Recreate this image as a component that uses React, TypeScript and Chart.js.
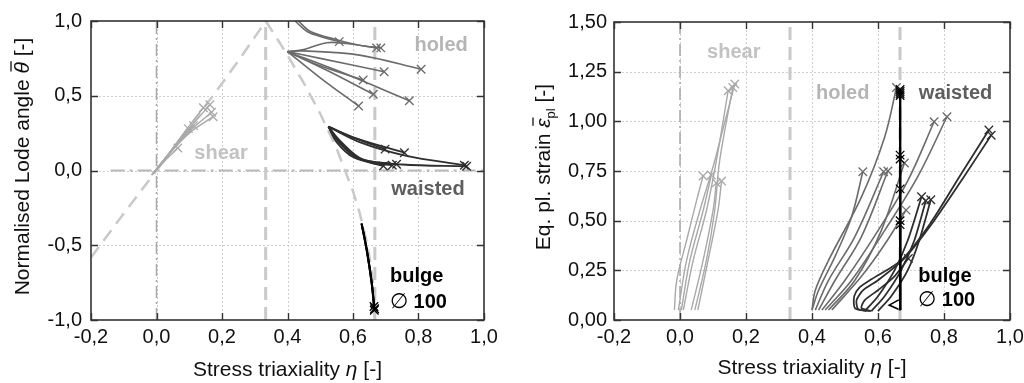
import React, { useEffect, useRef } from "react";
import { Chart, registerables } from "chart.js";
Chart.register(...registerables);

type Pt = [number, number];

const FONT = "'Liberation Sans', Arial, Helvetica, sans-serif";

// ---------- axes ----------
const etaMin = -0.2, etaMax = 1.0, etaStep = 0.2;
const lodeMin = -1, lodeMax = 1, lodeStep = 0.5;
const strainMin = 0, strainMax = 1.5, strainStep = 0.25;

// ---------- reference lines ----------
const refEtaShear = 0;
const refEtaUniaxial = 0.3333;
const refEtaBiaxial = 0.6667;
const lodeZeroEta = [-0.14, 1.0];
const planeStressEta = [-0.2, -0.1, 0, 0.1, 0.2, 0.25, 0.3, 0.31, 0.32, 0.325, 0.3333, 0.34, 0.35, 0.37, 0.4, 0.45, 0.5, 0.55, 0.6, 0.62, 0.64, 0.65, 0.66, 0.665, 0.6667];
const planeStressLode = [-0.582, -0.288, 0, 0.288, 0.582, 0.734, 0.892, 0.924, 0.956, 0.973, 1.0, 0.977, 0.944, 0.876, 0.771, 0.584, 0.38, 0.147, -0.139, -0.281, -0.458, -0.574, -0.728, -0.866, -1.0];

// ---------- Lode angle vs triaxiality ----------
const shearLode: Pt[][] = [
  [[-0.015, -0.03], [0.03, 0.09], [0.1, 0.28], [0.163, 0.44]],
  [[-0.015, -0.03], [0.03, 0.09], [0.09, 0.27], [0.143, 0.42]],
  [[-0.012, -0.025], [0.03, 0.09], [0.1, 0.26], [0.168, 0.39]],
  [[-0.01, -0.02], [0.03, 0.09], [0.1, 0.25], [0.173, 0.36]],
  [[-0.01, -0.02], [0.03, 0.09], [0.07, 0.2], [0.113, 0.3]],
  [[-0.01, -0.02], [0.03, 0.09], [0.06, 0.18], [0.097, 0.28]],
  [[-0.01, -0.02], [0.03, 0.075], [0.065, 0.15]],
];
const holedLode: Pt[][] = [
  [[0.423, 1.0], [0.46, 0.93], [0.51, 0.89], [0.558, 0.862]],
  [[0.433, 1.0], [0.47, 0.93], [0.55, 0.875], [0.62, 0.838], [0.685, 0.82]],
  [[0.4, 0.795], [0.45, 0.81], [0.52, 0.855], [0.58, 0.85], [0.672, 0.82]],
  [[0.4, 0.795], [0.45, 0.8], [0.62, 0.772], [0.808, 0.677]],
  [[0.4, 0.795], [0.5, 0.75], [0.695, 0.661]],
  [[0.4, 0.795], [0.5, 0.7], [0.631, 0.605]],
  [[0.4, 0.795], [0.52, 0.67], [0.662, 0.51]],
  [[0.4, 0.795], [0.5, 0.62], [0.617, 0.431]],
  [[0.4, 0.795], [0.55, 0.67], [0.772, 0.467]],
];
const waistedLode: Pt[][] = [
  [[0.525, 0.293], [0.6, 0.22], [0.698, 0.143]],
  [[0.525, 0.293], [0.61, 0.215], [0.757, 0.119]],
  [[0.525, 0.293], [0.62, 0.19], [0.76, 0.1], [0.94, 0.035]],
  [[0.525, 0.293], [0.55, 0.19], [0.6, 0.09], [0.693, 0.03]],
  [[0.525, 0.293], [0.555, 0.2], [0.62, 0.08], [0.733, 0.042]],
  [[0.525, 0.293], [0.56, 0.2], [0.63, 0.075], [0.75, 0.04], [0.947, 0.028]],
  [[0.525, 0.293], [0.545, 0.22], [0.6, 0.1], [0.66, 0.05], [0.72, 0.035]],
];
const bulgeLode: Pt[][] = [
  [[0.626, -0.353], [0.642, -0.532], [0.657, -0.755], [0.665, -0.935]],
  [[0.627, -0.36], [0.643, -0.54], [0.658, -0.76], [0.664, -0.91]],
  [[0.626, -0.355], [0.642, -0.535], [0.657, -0.75], [0.666, -0.925]],
];

// ---------- Equivalent plastic strain vs triaxiality ----------
const shearStrain: Pt[][] = [
  [[-0.017, 0.05], [-0.01, 0.2], [0.02, 0.4], [0.05, 0.6], [0.07, 0.725]],
  [[0.004, 0.05], [0.03, 0.3], [0.07, 0.55], [0.095, 0.73]],
  [[0.034, 0.05], [0.07, 0.3], [0.1, 0.55], [0.11, 0.69]],
  [[0.054, 0.05], [0.085, 0.3], [0.115, 0.55], [0.126, 0.7]],
  [[-0.005, 0.05], [0.02, 0.3], [0.06, 0.55], [0.1, 0.77], [0.13, 0.96], [0.166, 1.188]],
  [[0.01, 0.05], [0.04, 0.3], [0.08, 0.55], [0.11, 0.8], [0.146, 1.154]],
  [[0.045, 0.05], [0.08, 0.3], [0.105, 0.55], [0.12, 0.8], [0.16, 1.17]],
];
const holedStrain: Pt[][] = [
  [[0.4, 0.05], [0.41, 0.15], [0.45, 0.3], [0.55, 0.62], [0.62, 0.92], [0.656, 1.17]],
  [[0.4, 0.05], [0.42, 0.15], [0.47, 0.32], [0.52, 0.52], [0.554, 0.746]],
  [[0.41, 0.05], [0.45, 0.2], [0.53, 0.42], [0.617, 0.746]],
  [[0.42, 0.05], [0.47, 0.2], [0.55, 0.42], [0.63, 0.75]],
  [[0.43, 0.05], [0.5, 0.2], [0.6, 0.45], [0.69, 0.7], [0.77, 0.998]],
  [[0.44, 0.05], [0.52, 0.2], [0.62, 0.45], [0.72, 0.72], [0.809, 1.023]],
  [[0.45, 0.05], [0.53, 0.2], [0.61, 0.45], [0.68, 0.79]],
  [[0.46, 0.05], [0.55, 0.22], [0.62, 0.38], [0.685, 0.553]],
];
const waistedStrain: Pt[][] = [
  [[0.565, 0.045], [0.53, 0.06], [0.528, 0.12], [0.545, 0.165], [0.58, 0.205], [0.67, 0.3], [0.76, 0.49], [0.85, 0.73], [0.936, 0.956]],
  [[0.575, 0.045], [0.54, 0.055], [0.535, 0.1], [0.555, 0.15], [0.6, 0.2], [0.68, 0.31], [0.77, 0.5], [0.86, 0.72], [0.943, 0.93]],
  [[0.58, 0.045], [0.55, 0.06], [0.56, 0.1], [0.6, 0.15], [0.65, 0.22], [0.692, 0.31]],
  [[0.56, 0.045], [0.6, 0.12], [0.65, 0.25], [0.69, 0.4], [0.732, 0.62]],
  [[0.58, 0.045], [0.62, 0.12], [0.67, 0.25], [0.71, 0.4], [0.745, 0.6]],
  [[0.6, 0.045], [0.64, 0.12], [0.69, 0.25], [0.725, 0.4], [0.76, 0.605]],
];
const bulgeStrainEnds = [1.16, 1.15, 1.14, 1.13, 0.83, 0.81, 0.66, 0.5, 0.48];
const bulgeEta = 0.667;
const bulgeStrainStart = 0.05;
const bulgeHook: Pt[] = [[0.667, 0.05], [0.634, 0.075], [0.667, 0.105]];

// ---------- colours ----------
const C_SHEAR = "#a9a9a9";
const C_HOLED = "#6b6b6b";
const C_WAISTED = "#2e2e2e";
const C_BULGE = "#000000";
const C_REF = "#c9c9c9";
const C_REF_THIN = "#a8a8a8";

type Seg = { t: string; font: string; dy?: number; bar?: number; color?: string };

function drawRich(ctx: CanvasRenderingContext2D, segs: Seg[], cx: number, cy: number, rot: boolean, align: "center" | "left", color: string) {
  ctx.save();
  ctx.translate(cx, cy);
  if (rot) ctx.rotate(-Math.PI / 2);
  const ws = segs.map((s) => { ctx.font = s.font; return ctx.measureText(s.t).width; });
  const total = ws.reduce((a, b) => a + b, 0);
  let x = align === "center" ? -total / 2 : 0;
  ctx.textBaseline = "middle";
  ctx.textAlign = "left";
  segs.forEach((s, i) => {
    ctx.font = s.font;
    ctx.fillStyle = s.color || color;
    ctx.fillText(s.t, x, s.dy || 0);
    if (s.bar !== undefined) {
      ctx.beginPath();
      ctx.lineWidth = 1.3;
      ctx.strokeStyle = s.color || color;
      ctx.moveTo(x + 2, s.bar);
      ctx.lineTo(x + ws[i] + 1, s.bar);
      ctx.stroke();
    }
    x += ws[i];
  });
  ctx.restore();
}

type Ann = { segs: Seg[]; x: number; y: number; align: "center" | "left"; color: string };

function makeDecor(cfg: { anns: Ann[]; yTitle: Seg[]; yTitleOffset: number; xTitle: Seg[]; xTitleOffset: number }) {
  return {
    id: "decor",
    beforeDatasetsDraw(chart: any) {
      const { ctx, chartArea: a } = chart;
      const xs = chart.scales.x, ys = chart.scales.y;
      ctx.save();
      ctx.strokeStyle = "#cfcfcf";
      ctx.lineWidth = 1;
      ctx.setLineDash([2, 2]);
      xs.ticks.forEach((t: any) => {
        const p = Math.round(xs.getPixelForValue(t.value)) + 0.5;
        if (p <= a.left + 2 || p >= a.right - 2) return;
        ctx.beginPath(); ctx.moveTo(p, a.top); ctx.lineTo(p, a.bottom); ctx.stroke();
      });
      ys.ticks.forEach((t: any) => {
        const p = Math.round(ys.getPixelForValue(t.value)) + 0.5;
        if (p <= a.top + 2 || p >= a.bottom - 2) return;
        ctx.beginPath(); ctx.moveTo(a.left, p); ctx.lineTo(a.right, p); ctx.stroke();
      });
      ctx.restore();
    },
    afterDatasetsDraw(chart: any) {
      const { ctx, chartArea: a } = chart;
      const xs = chart.scales.x, ys = chart.scales.y;
      ctx.save();
      ctx.setLineDash([]);
      ctx.strokeStyle = "#333333";
      ctx.lineWidth = 1.6;
      ctx.strokeRect(a.left, a.top, a.right - a.left, a.bottom - a.top);
      const TL = 7;
      ctx.lineWidth = 1.4;
      xs.ticks.forEach((t: any) => {
        const p = Math.round(xs.getPixelForValue(t.value)) + 0.5;
        ctx.beginPath();
        ctx.moveTo(p, a.bottom); ctx.lineTo(p, a.bottom - TL);
        ctx.moveTo(p, a.top); ctx.lineTo(p, a.top + TL);
        ctx.stroke();
      });
      ys.ticks.forEach((t: any) => {
        const p = Math.round(ys.getPixelForValue(t.value)) + 0.5;
        ctx.beginPath();
        ctx.moveTo(a.left, p); ctx.lineTo(a.left + TL, p);
        ctx.moveTo(a.right, p); ctx.lineTo(a.right - TL, p);
        ctx.stroke();
      });
      ctx.restore();
      cfg.anns.forEach((an) => {
        drawRich(ctx, an.segs, xs.getPixelForValue(an.x), ys.getPixelForValue(an.y), false, an.align, an.color);
      });
      drawRich(ctx, cfg.xTitle, (a.left + a.right) / 2, a.bottom + cfg.xTitleOffset, false, "center", "#111");
      drawRich(ctx, cfg.yTitle, a.left - cfg.yTitleOffset, (a.top + a.bottom) / 2 - 4, true, "center", "#111");
    },
  };
}

function seriesDs(series: Pt[][], color: string, width: number, order: number, tension = 0.35) {
  return series.map((s) => ({
    data: s.map(([x, y]) => ({ x, y })),
    showLine: true,
    borderColor: color,
    backgroundColor: color,
    borderWidth: width,
    tension,
    pointStyle: "crossRot",
    pointRadius: (c: any) => (c.dataIndex === s.length - 1 ? 6 : 0),
    pointHoverRadius: 0,
    pointBorderWidth: 1.3,
    pointBorderColor: color,
    order,
  }));
}

function refDs(pts: Pt[], color: string, width: number, dash: number[]) {
  return {
    data: pts.map(([x, y]) => ({ x, y })),
    showLine: true,
    borderColor: color,
    borderWidth: width,
    borderDash: dash,
    tension: 0,
    pointRadius: 0,
    pointHoverRadius: 0,
    order: 10,
  };
}

const fmt = (dec: number) => (v: any) => {
  const n = Math.abs(Number(v)) < 1e-9 ? 0 : Number(v);
  return n.toFixed(dec).replace(".", ",");
};

const tickFont = { family: FONT, size: 20 };
const titleFont = `21px ${FONT}`;
const titleItal = `italic 21px ${FONT}`;
const annBold = `bold 20px ${FONT}`;

function buildChart(canvas: HTMLCanvasElement, p: {
  datasets: any[]; yMin: number; yMax: number; yStep: number; yDec: number;
  padRight: number; padTop: number; yWidth: number; yPad: number; decor: any;
}) {
  return new Chart(canvas, {
    type: "scatter",
    data: { datasets: p.datasets },
    options: {
      animation: false,
      responsive: false,
      devicePixelRatio: 1,
      events: [],
      layout: { padding: { left: 0, right: p.padRight, top: p.padTop, bottom: 0 } },
      plugins: { legend: { display: false }, tooltip: { enabled: false } },
      scales: {
        x: {
          type: "linear", min: etaMin, max: etaMax,
          ticks: { stepSize: etaStep, callback: fmt(1), font: tickFont, color: "#111", padding: 5, maxRotation: 0, autoSkip: false },
          grid: { display: false, drawTicks: false },
          border: { display: false },
          afterFit: (s: any) => { s.height = 63; s.paddingLeft = 0; s.paddingRight = 0; },
        },
        y: {
          type: "linear", min: p.yMin, max: p.yMax,
          ticks: { stepSize: p.yStep, callback: fmt(p.yDec), font: tickFont, color: "#111", padding: p.yPad, autoSkip: false },
          grid: { display: false, drawTicks: false },
          border: { display: false },
          afterFit: (s: any) => { s.width = p.yWidth; s.paddingTop = 0; s.paddingBottom = 0; },
        },
      },
    } as any,
    plugins: [p.decor],
  });
}

const xTitle: Seg[] = [
  { t: "Stress triaxiality ", font: titleFont },
  { t: "η", font: titleItal },
  { t: " [-]", font: titleFont },
];

function buildLeft(canvas: HTMLCanvasElement) {
  const datasets = [
    refDs(planeStressEta.map((e, i) => [e, planeStressLode[i]] as Pt), C_REF, 2.5, [13, 8]),
    refDs([[refEtaUniaxial, lodeMin], [refEtaUniaxial, lodeMax]], C_REF, 3, [13, 7]),
    refDs([[refEtaBiaxial, lodeMin], [refEtaBiaxial, lodeMax]], C_REF, 3, [13, 7]),
    refDs([[refEtaShear, lodeMin], [refEtaShear, lodeMax]], C_REF_THIN, 1.5, [12, 4, 2, 4]),
    refDs([[lodeZeroEta[0], 0], [lodeZeroEta[1], 0]], "#b8b8b8", 2, [14, 5, 3, 5]),
    ...seriesDs(shearLode, C_SHEAR, 1.4, 4),
    ...seriesDs(holedLode, C_HOLED, 1.6, 3),
    ...seriesDs(waistedLode, C_WAISTED, 1.8, 2),
    ...seriesDs(bulgeLode, C_BULGE, 2, 1),
  ];
  const decor = makeDecor({
    anns: [
      { segs: [{ t: "holed", font: annBold }], x: 0.869, y: 0.833, align: "center", color: "#b5b5b5" },
      { segs: [{ t: "shear", font: annBold }], x: 0.197, y: 0.117, align: "center", color: "#c2c2c2" },
      { segs: [{ t: "waisted", font: annBold }], x: 0.829, y: -0.13, align: "center", color: "#5e5e5e" },
      { segs: [{ t: "bulge", font: annBold }], x: 0.713, y: -0.712, align: "left", color: "#000" },
      { segs: [{ t: "∅", font: `21px ${FONT}` }, { t: " 100", font: annBold }], x: 0.713, y: -0.88, align: "left", color: "#000" },
    ],
    yTitle: [
      { t: "Normalised Lode angle ", font: titleFont },
      { t: "θ", font: titleItal, bar: -12 },
      { t: " [-]", font: titleFont },
    ],
    yTitleOffset: 68,
    xTitle,
    xTitleOffset: 50,
  });
  return buildChart(canvas, { datasets, yMin: lodeMin, yMax: lodeMax, yStep: lodeStep, yDec: 1, padRight: 28, padTop: 21, yWidth: 91, yPad: 9, decor });
}

function buildRight(canvas: HTMLCanvasElement) {
  const bulgeSeries: Pt[][] = bulgeStrainEnds.map((e) => [[bulgeEta, bulgeStrainStart], [bulgeEta, e]] as Pt[]);
  const datasets = [
    refDs([[refEtaUniaxial, strainMin], [refEtaUniaxial, strainMax]], C_REF, 3, [13, 7]),
    refDs([[refEtaBiaxial, strainMin], [refEtaBiaxial, strainMax]], C_REF, 3, [13, 7]),
    refDs([[refEtaShear, strainMin], [refEtaShear, strainMax]], C_REF_THIN, 1.5, [12, 4, 2, 4]),
    ...seriesDs(shearStrain, C_SHEAR, 1.4, 4),
    ...seriesDs(holedStrain, C_HOLED, 1.6, 3),
    ...seriesDs(waistedStrain, C_WAISTED, 1.8, 2, 0.25),
    ...seriesDs(bulgeSeries, C_BULGE, 2, 1, 0),
    refDs(bulgeHook, C_BULGE, 1.6, []),
  ];
  const decor = makeDecor({
    anns: [
      { segs: [{ t: "shear", font: annBold }], x: 0.163, y: 1.349, align: "center", color: "#c2c2c2" },
      { segs: [{ t: "holed", font: annBold }], x: 0.493, y: 1.142, align: "center", color: "#b5b5b5" },
      { segs: [{ t: "waisted", font: annBold }], x: 0.835, y: 1.142, align: "center", color: "#5e5e5e" },
      { segs: [{ t: "bulge", font: annBold }], x: 0.722, y: 0.221, align: "left", color: "#000" },
      { segs: [{ t: "∅", font: `21px ${FONT}` }, { t: " 100", font: annBold }], x: 0.722, y: 0.1, align: "left", color: "#000" },
    ],
    yTitle: [
      { t: "Eq. pl. strain ", font: titleFont },
      { t: "ε", font: titleItal, bar: -11 },
      { t: "pl", font: `13px ${FONT}`, dy: 7 },
      { t: " [-]", font: titleFont },
    ],
    yTitleOffset: 70,
    xTitle,
    xTitleOffset: 48,
  });
  return buildChart(canvas, { datasets, yMin: strainMin, yMax: strainMax, yStep: strainStep, yDec: 2, padRight: 14, padTop: 22, yWidth: 102, yPad: 7, decor });
}

function ChartCanvas({ build }: { build: (c: HTMLCanvasElement) => Chart }) {
  const ref = useRef<HTMLCanvasElement>(null);
  useEffect(() => {
    const ch = build(ref.current!);
    return () => ch.destroy();
  }, [build]);
  return <canvas ref={ref} width={512} height={383} style={{ display: "block", width: 512, height: 383 }} />;
}

export default function App() {
  return (
    <div style={{ position: "absolute", left: 0, top: 0, width: 1024, height: 383, display: "flex", background: "#fff", overflow: "hidden" }}>
      <ChartCanvas build={buildLeft} />
      <ChartCanvas build={buildRight} />
    </div>
  );
}
